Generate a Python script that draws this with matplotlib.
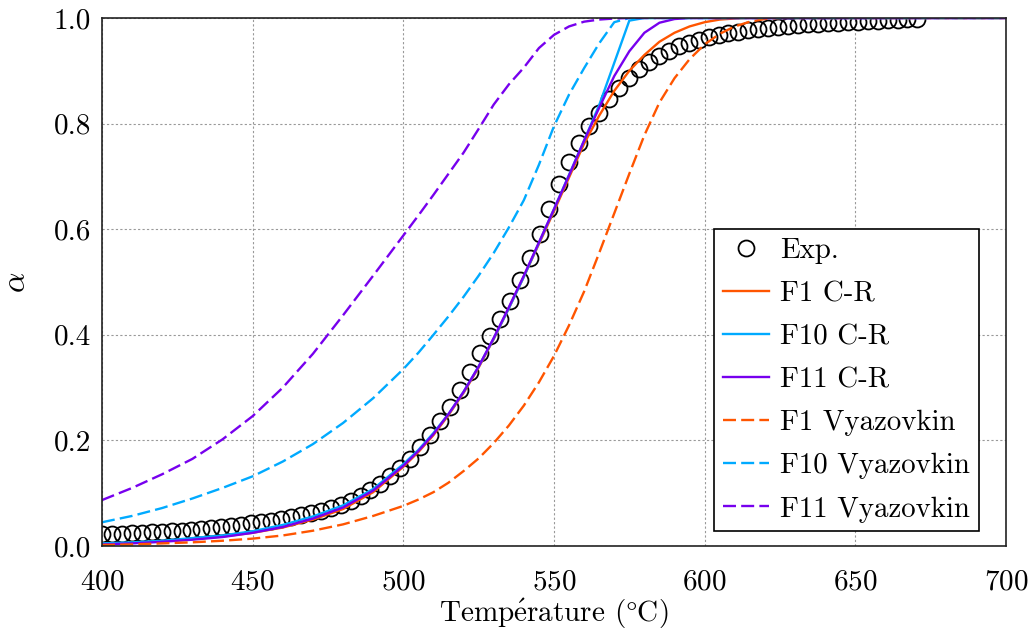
import matplotlib
matplotlib.use("Agg")
import matplotlib.pyplot as plt

plt.rcParams['font.family'] = ['cmr10', 'DejaVu Serif']
plt.rcParams['mathtext.fontset'] = 'cm'
plt.rcParams['axes.formatter.use_mathtext'] = True

# Experimental data
exp_T = [400.0, 403.3, 406.6, 409.9, 413.2, 416.5, 419.8, 423.1, 426.4, 429.7,
         433.0, 436.3, 439.6, 442.9, 446.2, 449.5, 452.8, 456.1, 459.4, 462.7,
         466.0, 469.3, 472.6, 475.9, 479.2, 482.5, 485.8, 489.1, 492.4, 495.7,
         499.0, 502.3, 505.6, 508.9, 512.2, 515.5, 518.8, 522.1, 525.4, 528.7,
         532.0, 535.3, 538.6, 541.9, 545.2, 548.5, 551.8, 555.1, 558.4, 561.7,
         565.0, 568.3, 571.6, 574.9, 578.2, 581.5, 584.8, 588.1, 591.4, 594.7,
         598.0, 601.3, 604.6, 607.9, 611.2, 614.5, 617.8, 621.1, 624.4, 627.7,
         631.0, 634.3, 637.6, 640.9, 644.2, 647.5, 650.8, 654.1, 657.4, 660.7,
         664.0, 667.3, 670.6]
exp_a = [0.022, 0.022, 0.023, 0.024, 0.025, 0.026, 0.027, 0.028, 0.029, 0.031,
         0.032, 0.034, 0.036, 0.038, 0.040, 0.043, 0.045, 0.048, 0.051, 0.055,
         0.058, 0.062, 0.067, 0.072, 0.078, 0.086, 0.095, 0.106, 0.118, 0.132,
         0.147, 0.165, 0.187, 0.210, 0.236, 0.264, 0.296, 0.330, 0.365, 0.398,
         0.430, 0.464, 0.503, 0.545, 0.590, 0.638, 0.685, 0.728, 0.764, 0.795,
         0.820, 0.847, 0.868, 0.886, 0.903, 0.917, 0.928, 0.938, 0.946, 0.953,
         0.959, 0.964, 0.968, 0.971, 0.974, 0.977, 0.979, 0.981, 0.983, 0.985,
         0.986, 0.988, 0.989, 0.990, 0.991, 0.992, 0.993, 0.994, 0.995, 0.996,
         0.997, 0.998, 0.998]

# Model curves
T_model = [400, 410, 420, 430, 440, 450, 460, 470, 480, 490,
           500, 505, 510, 515, 520, 525, 530, 535, 540, 545,
           550, 555, 560, 565, 570, 575, 580, 585, 590, 595,
           600, 605, 610, 615, 620, 625, 630, 650, 700]
f1_cr = [0.004, 0.006, 0.009, 0.013, 0.018, 0.025, 0.035, 0.050, 0.070, 0.102,
         0.150, 0.178, 0.210, 0.248, 0.290, 0.338, 0.392, 0.450, 0.510, 0.572,
         0.634, 0.698, 0.762, 0.815, 0.862, 0.900, 0.930, 0.955, 0.972, 0.984,
         0.992, 0.997, 0.999, 1.0, 1.0, 1.0, 1.0, 1.0, 1.0]
f10_cr = [0.005, 0.007, 0.010, 0.015, 0.020, 0.028, 0.040, 0.056, 0.077, 0.108,
          0.155, 0.182, 0.214, 0.250, 0.292, 0.340, 0.393, 0.450, 0.510, 0.574,
          0.638, 0.703, 0.768, 0.835, 0.915, 0.995, 1.0, 1.0, 1.0, 1.0,
          1.0, 1.0, 1.0, 1.0, 1.0, 1.0, 1.0, 1.0, 1.0]
f11_cr = [0.003, 0.005, 0.008, 0.012, 0.017, 0.025, 0.036, 0.052, 0.073, 0.105,
          0.152, 0.180, 0.212, 0.250, 0.292, 0.340, 0.394, 0.452, 0.512, 0.575,
          0.638, 0.702, 0.768, 0.830, 0.890, 0.937, 0.972, 0.991, 0.998, 1.0,
          1.0, 1.0, 1.0, 1.0, 1.0, 1.0, 1.0, 1.0, 1.0]
f1_vy = [0.002, 0.003, 0.005, 0.007, 0.010, 0.014, 0.020, 0.029, 0.041, 0.057,
         0.076, 0.088, 0.102, 0.120, 0.142, 0.166, 0.195, 0.228, 0.266, 0.310,
         0.360, 0.418, 0.482, 0.555, 0.630, 0.705, 0.778, 0.840, 0.886, 0.922,
         0.950, 0.970, 0.984, 0.993, 0.998, 1.0, 1.0, 1.0, 1.0]
f10_vy = [0.045, 0.057, 0.072, 0.090, 0.110, 0.132, 0.160, 0.193, 0.233, 0.280,
          0.335, 0.366, 0.400, 0.435, 0.472, 0.512, 0.555, 0.603, 0.655, 0.722,
          0.795, 0.855, 0.905, 0.952, 0.992, 1.0, 1.0, 1.0, 1.0, 1.0,
          1.0, 1.0, 1.0, 1.0, 1.0, 1.0, 1.0, 1.0, 1.0]
f11_vy = [0.087, 0.110, 0.136, 0.165, 0.202, 0.246, 0.300, 0.364, 0.437, 0.512,
          0.588, 0.626, 0.665, 0.705, 0.745, 0.790, 0.836, 0.874, 0.906, 0.943,
          0.968, 0.984, 0.993, 0.997, 0.999, 1.0, 1.0, 1.0, 1.0, 1.0,
          1.0, 1.0, 1.0, 1.0, 1.0, 1.0, 1.0, 1.0, 1.0]

labels = ["Exp.", "F1 C-R", "F10 C-R", "F11 C-R",
          "F1 Vyazovkin", "F10 Vyazovkin", "F11 Vyazovkin"]
c_orange = "#ff5500"
c_blue = "#00aaff"
c_purple = "#7700ee"

fig = plt.figure(figsize=(10.30, 6.33), dpi=100)
ax = fig.add_axes([0.099, 0.1374, 0.8777, 0.8342])

ax.plot(exp_T, exp_a, linestyle='none', marker='o', markersize=11.5,
        markerfacecolor='none', markeredgecolor='black', markeredgewidth=1.3,
        label=labels[0])
lw = 1.7
ax.plot(T_model, f1_cr, color=c_orange, lw=lw, label=labels[1])
ax.plot(T_model, f10_cr, color=c_blue, lw=lw, label=labels[2])
ax.plot(T_model, f11_cr, color=c_purple, lw=lw, label=labels[3])
dash = (5.5, 2.2)
ax.plot(T_model, f1_vy, color=c_orange, lw=lw, dashes=dash, label=labels[4])
ax.plot(T_model, f10_vy, color=c_blue, lw=lw, dashes=dash, label=labels[5])
ax.plot(T_model, f11_vy, color=c_purple, lw=lw, dashes=dash, label=labels[6])

ax.set_xlim(400, 700)
ax.set_ylim(0, 1)
ax.set_xticks([400, 450, 500, 550, 600, 650, 700])
ax.set_yticks([0.0, 0.2, 0.4, 0.6, 0.8, 1.0])
ax.set_yticklabels(["0.0", "0.2", "0.4", "0.6", "0.8", "1.0"])
ax.tick_params(length=0, labelsize=21)
ax.tick_params(axis='y', pad=8)
ax.tick_params(axis='x', pad=17)
ax.grid(True, color='#999999', linestyle=(0, (2, 2)), linewidth=0.8)
ax.set_axisbelow(True)
for s in ax.spines.values():
    s.set_linewidth(1.2)
    s.set_color('#222222')

ax.set_xlabel(r'Temp$\acute{\mathrm{e}}$rature ($\degree$C)', fontsize=21, labelpad=0.5)
ax.set_ylabel(r'$\alpha$', fontsize=23, labelpad=16)

leg = ax.legend(loc='lower right', bbox_to_anchor=(0.970, 0.028), borderaxespad=0,
                fontsize=20.8, frameon=True, fancybox=False, edgecolor='black',
                framealpha=1, handlelength=1.6, handletextpad=0.4,
                borderpad=0.3, labelspacing=0.58)
leg.get_frame().set_linewidth(1.2)

fig.savefig("out.png", dpi=100)
